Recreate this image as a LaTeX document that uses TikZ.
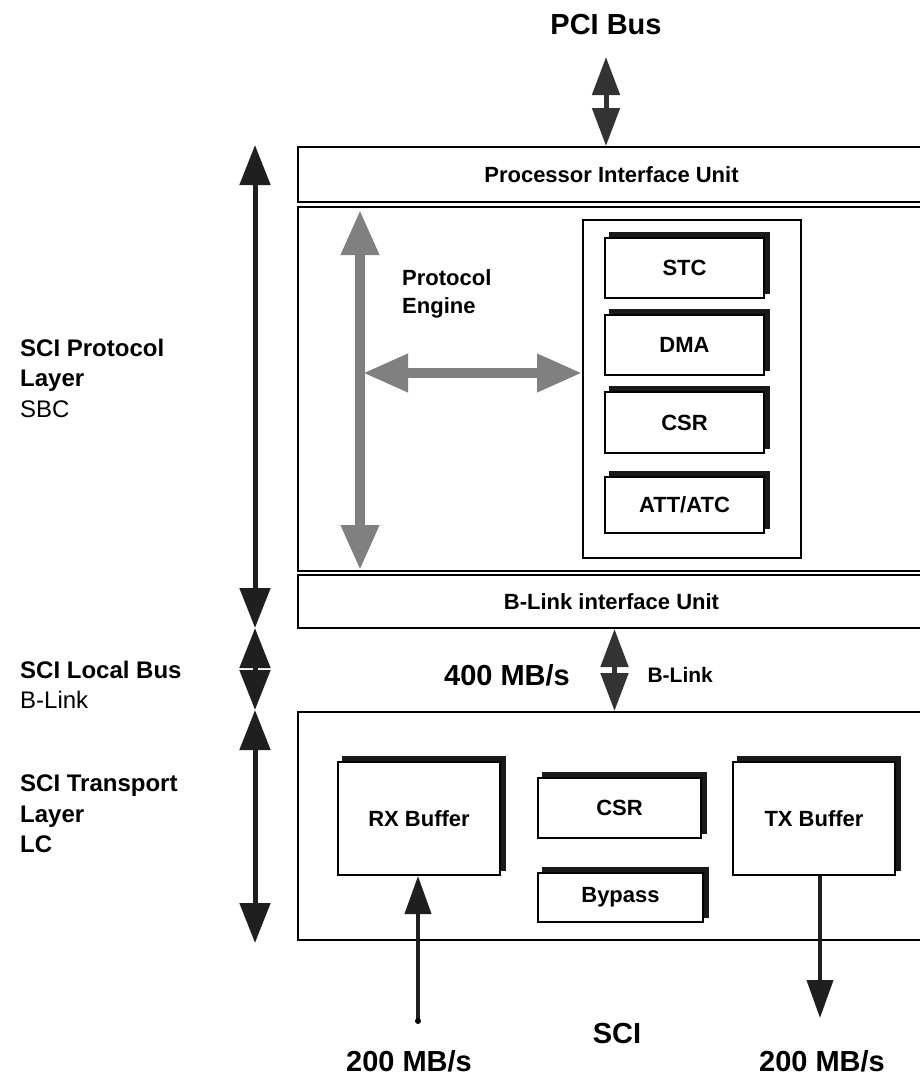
\documentclass[tikz,border=0pt]{standalone}
\usepackage{fontspec}
\setmainfont{Liberation Sans}
\usetikzlibrary{arrows.meta,shadows,calc}
\begin{document}
\begin{tikzpicture}[x=1pt,y=-1pt,
  box/.style={draw=black, line width=2pt, fill=white, inner sep=0pt},
  sbox/.style={box, general shadow={fill=black!90, draw=black!90, line width=2pt, shadow xshift=5pt, shadow yshift=5pt}},
  btxt/.style={font=\fontsize{22}{26}\selectfont\bfseries},
  big/.style={font=\fontsize{29}{34}\selectfont\bfseries},
  side/.style={font=\fontsize{24}{30.5}\selectfont, align=left, anchor=west, inner sep=0pt},
  blk/.style={line width=5pt, draw=black!88,
    {Triangle[length=40pt,width=30pt]}-{Triangle[length=40pt,width=30pt]}},
  mid/.style={line width=5pt, draw=black!80,
    {Triangle[length=38pt,width=27pt]}-{Triangle[length=38pt,width=27pt]}},
  gry/.style={line width=10pt, draw=black!50,
    {Triangle[length=45pt,width=36pt]}-{Triangle[length=45pt,width=36pt]}},
  one/.style={line width=4pt, draw=black!88, -{Triangle[length=38pt,width=26pt]}},
]
\clip (0,0) rectangle (920,1080);
\fill[white] (0,0) rectangle (920,1080);

% top
\node[big] (pci) at (606,25) {PCI Bus};
\node[box, minimum width=627pt, minimum height=55pt, btxt] (piu) at (611.5,174.5) {Processor Interface Unit};
\node[box, minimum width=627pt, minimum height=364pt] (pe) at (611.5,389) {};
\node[box, minimum width=218pt, minimum height=338pt] (cont) at (692,389) {};
\node[sbox, btxt, minimum width=159pt, minimum height=60pt] (stc) at (684.5,268) {STC};
\node[sbox, btxt, minimum width=159pt, minimum height=60pt] (dma) at (684.5,345) {DMA};
\node[sbox, btxt, minimum width=159pt, minimum height=61pt] (csr) at (684.5,422.5) {CSR};
\node[sbox, btxt, minimum width=159pt, minimum height=56pt] (att) at (684.5,505) {ATT/ATC};
\node[btxt, align=left, anchor=west, inner sep=0pt, font=\fontsize{22}{28}\selectfont\bfseries] (peng) at (402,294) {Protocol\\Engine};

\node[box, minimum width=627pt, minimum height=53pt, btxt] (blu) at (611.5,601.5) {B-Link interface Unit};
\node[box, minimum width=627pt, minimum height=228pt] (lc) at (611.5,826) {};
\node[sbox, btxt, minimum width=162pt, minimum height=113pt] (rx) at (419,818.5) {RX Buffer};
\node[sbox, btxt, minimum width=163pt, minimum height=60pt] (csrb) at (619.5,808) {CSR};
\node[sbox, btxt, minimum width=165pt, minimum height=49pt] (byp) at (620.5,897.5) {Bypass};
\node[sbox, btxt, minimum width=162pt, minimum height=113pt] (tx) at (814,818.5) {TX Buffer};

\node[big] (r400) at (507,675) {400 MB/s};
\node[btxt, anchor=west, font=\fontsize{21}{25}\selectfont\bfseries] (blk) at (644,675) {B-Link};
\node[big] (sci) at (617,1034) {SCI};
\node[big] (rrx) at (409,1061) {200 MB/s};
\node[big] (rtx) at (822,1061) {200 MB/s};

% side labels
\node[side] (lprot) at (20,378) {\textbf{SCI Protocol}\\\textbf{Layer}\\SBC};
\node[side] (lbus) at (20,685) {\textbf{SCI Local Bus}\\B-Link};
\node[side] (ltra) at (20,814) {\textbf{SCI Transport}\\\textbf{Layer}\\\textbf{LC}};

% connectors
\coordinate (pcitop) at (606,57);
\draw[mid] (pcitop) -- (pcitop |- piu.north);
\draw[mid] ($(blu.south)+(3,0)$) -- ($(lc.north)+(3,0)$);

\coordinate (la) at (255,145);
\coordinate (lb) at (255,628);
\coordinate (lcc) at (255,710);
\coordinate (ld) at (255,943);
\draw[blk] (la) -- (lb);
\draw[blk] (lb) -- (lcc);
\draw[blk] (lcc) -- (ld);

\coordinate (gt) at (360,210);
\coordinate (gb) at (360,570);
\coordinate (gh) at (363,373);
\draw[gry] (gt) -- (gb);
\draw[gry] (gh) -- (gh -| cont.west);

\coordinate (rxin) at (418,1021);
\coordinate (txout) at (820,1018);
\draw[one] (rxin) -- (rxin |- rx.south);
\fill[black] (rxin) circle (3pt);
\draw[one] (txout |- tx.south) -- (txout);
\end{tikzpicture}
\end{document}
